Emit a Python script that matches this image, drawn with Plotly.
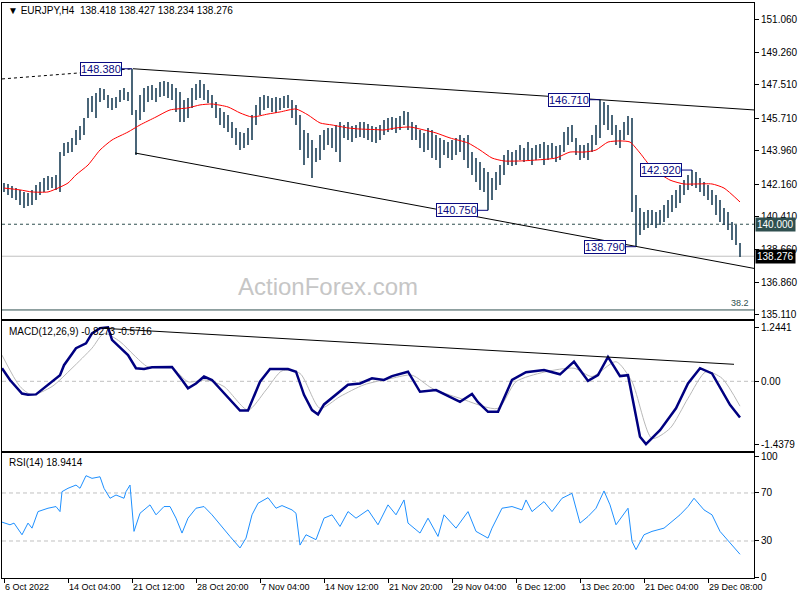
import plotly.graph_objects as go

# ---------------- data ----------------
header_text = "▼ EURJPY,H4  138.418 138.427 138.234 138.276"
macd_label = "MACD(12,26,9) -0.8273 -0.5716"
rsi_label = "RSI(14) 18.9414"
watermark = "ActionForex.com"

# price bars (each plotted bar spans two H4 bars; position = H4 bar index)
bar_high = [
    142.22, 142.17, 142.06, 141.95, 141.85, 141.74, 141.69, 141.85, 142.11, 142.28,
    142.49, 142.60, 142.55, 142.66, 143.89, 144.38, 144.43, 144.65, 145.08, 145.30,
    145.73, 146.80, 146.91, 147.07, 147.34, 147.29, 146.97, 146.80, 146.86, 147.23,
    147.34, 147.13, 148.38, 146.16, 146.97, 147.34, 147.45, 147.50, 147.34, 147.67,
    147.72, 147.67, 147.56, 147.34, 147.13, 146.69, 146.80, 147.34, 147.56, 147.77,
    147.56, 147.23, 146.97, 146.59, 146.27, 146.05, 145.89, 145.51, 145.19, 144.97,
    144.92, 145.19, 145.89, 146.43, 146.86, 146.97, 146.91, 146.80, 146.86, 146.80,
    146.91, 146.97, 146.69, 146.43, 145.89, 145.08, 144.92, 144.54, 144.11, 144.81,
    145.08, 145.19, 145.19, 145.35, 145.51, 145.35, 145.51, 145.30, 145.35, 145.51,
    145.51, 145.40, 145.30, 145.24, 145.35, 145.62, 145.73, 145.78, 145.73, 145.83,
    146.10, 146.05, 145.51, 145.35, 145.08, 144.92, 145.19, 145.08, 144.81, 144.65,
    144.54, 144.43, 144.54, 144.65, 144.81, 144.65, 144.81, 143.89, 143.57, 143.35,
    143.03, 142.82, 142.49, 142.82, 143.19, 143.73, 144.00, 143.89, 144.00, 144.27,
    144.11, 144.43, 144.11, 144.27, 144.33, 144.43, 144.27, 144.38, 144.22, 144.27,
    144.97, 145.24, 145.35, 144.65, 144.27, 144.27, 144.38, 144.81, 145.35, 146.71,
    146.59, 146.43, 145.89, 145.35, 145.08, 145.51, 145.83, 145.73, 141.58, 140.88,
    140.66, 140.77, 140.77, 140.66, 140.77, 141.04, 141.31, 141.58, 141.85, 142.11,
    142.38, 142.66, 142.92, 142.82, 142.49, 142.28, 142.11, 141.85, 141.58, 141.31,
    140.88, 140.66, 140.12, 139.96, 138.99,
]
bar_low = [
    141.74, 141.58, 141.42, 141.31, 141.04, 140.88, 140.98, 141.04, 141.31, 141.58,
    141.74, 141.85, 141.95, 141.85, 141.74, 143.68, 143.84, 143.89, 144.27, 144.54,
    144.81, 145.73, 146.05, 145.73, 146.59, 146.69, 146.27, 146.16, 146.27, 146.59,
    146.69, 146.64, 145.89, 143.73, 145.62, 146.05, 146.59, 146.69, 146.59, 146.86,
    146.91, 146.80, 146.69, 146.05, 145.51, 145.51, 145.73, 146.27, 146.69, 146.80,
    146.69, 146.53, 146.27, 145.73, 145.35, 145.19, 144.97, 144.65, 144.27, 144.00,
    144.11, 144.27, 144.54, 145.35, 145.89, 146.16, 146.27, 146.05, 146.00, 146.16,
    146.27, 146.27, 145.73, 145.35, 144.00, 143.19, 143.57, 142.49, 143.35, 143.46,
    144.00, 144.27, 144.11, 143.89, 143.35, 144.65, 144.54, 144.43, 144.65, 144.70,
    144.65, 144.54, 144.43, 144.38, 144.54, 144.81, 144.97, 145.08, 144.92, 145.08,
    145.35, 145.08, 144.54, 144.54, 144.11, 143.89, 144.00, 143.57, 143.46, 143.03,
    143.73, 143.57, 143.46, 143.73, 143.89, 143.46, 143.03, 142.66, 142.28, 141.85,
    141.74, 140.75, 141.31, 141.85, 142.11, 142.66, 143.19, 143.14, 143.19, 143.46,
    143.35, 143.46, 143.19, 143.46, 143.57, 143.19, 143.46, 143.57, 143.35, 143.46,
    143.89, 144.27, 144.43, 143.73, 143.46, 143.57, 143.46, 143.89, 144.27, 144.65,
    145.35, 145.08, 144.81, 144.27, 144.11, 144.54, 144.81, 140.66, 138.79, 139.42,
    139.69, 139.80, 139.96, 139.80, 139.96, 140.12, 140.34, 140.66, 140.88, 141.15,
    141.58, 141.85, 142.06, 141.95, 141.74, 141.52, 141.31, 141.04, 140.50, 140.12,
    139.96, 139.69, 139.15, 138.88, 138.23,
]
bar_step = 2

# moving average (red)
ma_index = [0, 8, 14, 22, 27, 32, 36, 42, 48, 54, 62, 68, 76, 83, 92, 98, 104, 112, 118, 124,
            132, 138, 146, 152, 158, 164, 172, 178, 186, 190, 196, 203, 210, 216, 223, 232, 238,
            244, 250, 258, 266, 276, 283, 290, 296, 302, 308, 313, 318, 324, 333, 340, 346, 354,
            360, 368]
ma_value = [141.95, 141.85, 141.74, 141.74, 141.95, 142.22, 142.66, 143.19, 144.00, 144.54,
            144.97, 145.35, 145.78, 146.16, 146.27, 146.43, 146.48, 146.32, 146.00, 145.78,
            145.94, 146.05, 146.21, 145.89, 145.46, 145.35, 145.19, 145.13, 145.10, 145.08,
            145.19, 145.24, 145.08, 144.92, 144.65, 144.38, 144.00, 143.57, 143.41, 143.41,
            143.46, 143.57, 143.89, 143.89, 144.00, 144.43, 144.49, 144.43, 143.84, 143.03,
            142.38, 142.17, 142.17, 142.17, 141.95, 141.20]

# trend lines
upper_trend_index = [64.5, 375]
upper_trend_price = [148.38, 146.16]
lower_trend_index = [65.5, 375]
lower_trend_price = [143.84, 137.62]
lead_in_index = [-1, 64.5]
lead_in_price = [147.83, 148.38]
level_140 = 140.00
last_price = 138.276
fib_level = 135.38
fib_text = "38.2"

# swing callouts: (bar index, price, label)
callout_index = [64, 298, 242, 316, 344]
callout_price = [148.38, 146.71, 140.75, 138.79, 142.92]
callout_text = ["148.380", "146.710", "140.750", "138.790", "142.920"]

# MACD
macd_index = [-1, 3, 9, 12, 16, 20, 28, 30, 36, 41, 44, 48, 52, 54, 59, 62, 66, 70, 74, 80,
              84, 89, 92, 96, 100, 104, 110, 118, 122, 128, 133, 142, 146, 150, 154, 157, 160,
              166, 172, 178, 184, 190, 194, 202, 208, 216, 222, 228, 234, 237, 242, 247, 254,
              261, 270, 278, 285, 292, 297, 302, 308, 312, 318, 321, 328, 336, 342, 348, 354,
              363, 368]
macd_value = [0.30, 0.03, -0.28, -0.31, -0.30, -0.15, 0.14, 0.37, 0.76, 0.87, 1.10, 1.22, 1.24,
              0.95, 0.72, 0.60, 0.30, 0.28, 0.32, 0.33, 0.33, 0.03, -0.16, -0.05, 0.11, 0.03,
              -0.28, -0.67, -0.67, -0.01, 0.28, 0.28, 0.22, -0.31, -0.66, -0.76, -0.53, -0.31,
              -0.08, -0.05, 0.07, 0.03, 0.12, 0.22, -0.24, -0.20, -0.34, -0.47, -0.29, -0.48,
              -0.70, -0.70, 0.03, 0.21, 0.26, 0.16, 0.45, 0.01, 0.14, 0.56, 0.12, 0.14, -1.27,
              -1.44, -1.12, -0.62, -0.05, 0.30, 0.18, -0.54, -0.83]
signal_index = [-1, 8, 14, 24, 34, 44, 50, 58, 65, 72, 84, 92, 101, 110, 122, 131, 139, 148, 158,
                168, 180, 194, 204, 214, 228, 247, 256, 270, 285, 294, 306, 314, 324, 333, 342,
                351, 359, 368]
signal_value = [0.60, -0.12, -0.31, -0.12, 0.30, 0.76, 1.10, 0.91, 0.60, 0.33, 0.31, -0.01,
                0.03, -0.12, -0.66, -0.20, 0.24, 0.18, -0.62, -0.35, -0.08, 0.07, 0.14, -0.16,
                -0.39, -0.62, -0.01, 0.21, 0.30, 0.11, 0.45, -0.01, -1.31, -1.08, -0.39, 0.22,
                0.07, -0.57]
macd_trend_index = [49.5, 365]
macd_trend_value = [1.216, 0.39]

# RSI
rsi_index = [-1, 3, 5, 9, 12, 14, 17, 22, 26, 28, 29, 32, 36, 38, 41, 44, 48, 50, 53, 56, 60, 61,
             63, 65, 68, 71, 73, 76, 80, 83, 86, 89, 92, 96, 100, 104, 108, 113, 118, 121, 124,
             127, 132, 136, 139, 144, 146, 148, 151, 156, 160, 164, 168, 172, 176, 182, 187, 192,
             196, 200, 202, 208, 212, 217, 220, 226, 232, 236, 242, 244, 249, 254, 259, 261, 264,
             270, 274, 279, 284, 288, 292, 296, 300, 303, 306, 312, 314, 316, 320, 324, 330, 338,
             342, 345, 350, 354, 358, 363, 368]
rsi_value = [45.7, 43.5, 44.9, 35.2, 44.9, 40.7, 54.5, 57.3, 58.7, 54.5, 71.1, 73.9, 76.6, 73.9,
             84.4, 82.2, 83.5, 73.9, 65.6, 68.3, 65.6, 71.1, 76.6, 38.0, 53.1, 57.3, 60.1, 51.8,
             58.7, 58.7, 49.0, 36.6, 49.0, 57.3, 58.7, 51.8, 43.5, 33.8, 24.2, 32.4, 51.8, 61.4,
             66.1, 57.3, 59.5, 55.9, 53.1, 26.6, 35.2, 31.1, 49.0, 51.8, 42.1, 54.5, 49.0, 55.9,
             43.5, 60.1, 51.8, 64.2, 44.9, 36.6, 49.0, 33.8, 51.8, 40.7, 54.5, 38.0, 32.4, 40.7,
             57.3, 58.7, 55.9, 64.2, 54.5, 62.8, 54.5, 65.6, 69.7, 44.9, 50.4, 57.3, 71.7, 60.1,
             43.5, 57.3, 29.7, 22.8, 35.2, 38.0, 40.7, 51.8, 58.7, 65.6, 55.9, 51.8, 38.0, 28.3,
             18.94]

# axis ticks
price_ticks = [151.06, 149.26, 147.51, 145.71, 143.96, 142.16, 140.41, 138.66, 136.86, 135.11]
price_tick_text = ["151.060", "149.260", "147.510", "145.710", "143.960", "142.160", "140.410",
                   "138.660", "136.860", "135.110"]
macd_ticks = [1.2441, 0.0, -1.4379]
macd_tick_text = ["1.2441", "0.00", "-1.4379"]
rsi_ticks = [100, 70, 30, 0]
time_tick_index = [0, 32, 64, 96, 128, 160, 192, 224, 256, 288, 320, 352]
time_tick_text = ["6 Oct 2022", "14 Oct 04:00", "21 Oct 12:00", "28 Oct 20:00", "7 Nov 04:00",
                  "14 Nov 12:00", "21 Nov 20:00", "29 Nov 04:00", "6 Dec 12:00",
                  "13 Dec 20:00", "21 Dec 04:00", "29 Dec 08:00"]

# ---------------- layout geometry (pixels) ----------------
W, H = 800, 600
LEFT, RIGHT = 2, 754
MAIN_PX = (2.5, 318.5)
MACD_PX = (321, 450.5)
RSI_PX = (453, 578)
FONT = "Liberation Sans"
BAR_COLOR = "#1c3f57"
NAVY = "#0a0a80"


def ydom(p):
    return [1 - p[1] / H, 1 - p[0] / H]


xdom = [LEFT / W, RIGHT / W]
x_range = [-1, 375]

fig = go.Figure()

# bars as vertical high-low strokes
bx, by = [], []
for i, (hi, lo) in enumerate(zip(bar_high, bar_low)):
    k = i * bar_step
    bx += [k, k, None]
    by += [lo, hi, None]
fig.add_trace(go.Scatter(x=bx, y=by, mode="lines", line=dict(color=BAR_COLOR, width=1.6),
                         hoverinfo="skip", xaxis="x", yaxis="y"))
fig.add_trace(go.Scatter(x=ma_index, y=ma_value, mode="lines",
                         line=dict(color="#ff0000", width=1, shape="spline", smoothing=0.6),
                         xaxis="x", yaxis="y"))
fig.add_trace(go.Scatter(x=upper_trend_index, y=upper_trend_price, mode="lines",
                         line=dict(color="black", width=1), xaxis="x", yaxis="y"))
fig.add_trace(go.Scatter(x=lower_trend_index, y=lower_trend_price, mode="lines",
                         line=dict(color="black", width=1), xaxis="x", yaxis="y"))
fig.add_trace(go.Scatter(x=lead_in_index, y=lead_in_price, mode="lines",
                         line=dict(color="black", width=1, dash="3px,3px"), xaxis="x", yaxis="y"))

# MACD
fig.add_trace(go.Scatter(x=signal_index, y=signal_value, mode="lines",
                         line=dict(color="#b8b8b8", width=1, shape="spline", smoothing=0.7),
                         xaxis="x2", yaxis="y2"))
fig.add_trace(go.Scatter(x=macd_index, y=macd_value, mode="lines",
                         line=dict(color="#000080", width=2.5), xaxis="x2", yaxis="y2"))
fig.add_trace(go.Scatter(x=macd_trend_index, y=macd_trend_value, mode="lines",
                         line=dict(color="black", width=1), xaxis="x2", yaxis="y2"))

# RSI
fig.add_trace(go.Scatter(x=rsi_index, y=rsi_value, mode="lines",
                         line=dict(color="#1e90ff", width=1), xaxis="x3", yaxis="y3"))

shapes = []
# horizontal levels
shapes.append(dict(type="line", xref="x", yref="y", x0=x_range[0], x1=x_range[1],
                   y0=level_140, y1=level_140, line=dict(color="#2f4f4f", width=1, dash="3px,3px"),
                   layer="below"))
shapes.append(dict(type="line", xref="x", yref="y", x0=x_range[0], x1=x_range[1],
                   y0=last_price, y1=last_price, line=dict(color="#c0c0c0", width=1),
                   layer="below"))
shapes.append(dict(type="line", xref="x", yref="y", x0=x_range[0], x1=x_range[1],
                   y0=fib_level, y1=fib_level, line=dict(color="#2f4f4f", width=1),
                   layer="below"))
shapes.append(dict(type="line", xref="x2", yref="y2", x0=x_range[0], x1=x_range[1],
                   y0=0, y1=0, line=dict(color="#c0c0c0", width=1, dash="4px,3px"), layer="below"))
for lvl in (70, 30):
    shapes.append(dict(type="line", xref="x3", yref="y3", x0=x_range[0], x1=x_range[1],
                       y0=lvl, y1=lvl, line=dict(color="#c0c0c0", width=1, dash="4px,3px"),
                       layer="below"))

annotations = []
for k, p, t in zip(callout_index, callout_price, callout_text):
    shapes.append(dict(type="line", xref="x", yref="y", x0=k - 5, x1=k, y0=p, y1=p,
                       line=dict(color=NAVY, width=1)))
    annotations.append(dict(xref="x", yref="y", x=k - 5, y=p, xanchor="right", yanchor="middle",
                            text=t, showarrow=False, font=dict(family=FONT, size=11, color=NAVY),
                            bgcolor="white", bordercolor=NAVY, borderwidth=1, borderpad=0))

annotations.append(dict(xref="paper", yref="paper", x=6 / W, y=1 - 10 / H, xanchor="left",
                        yanchor="middle", text=header_text, showarrow=False,
                        font=dict(family=FONT, size=10, color="black")))
annotations.append(dict(xref="paper", yref="paper", x=7 / W, y=1 - 331 / H, xanchor="left",
                        yanchor="middle", text=macd_label, showarrow=False,
                        font=dict(family=FONT, size=10, color="black")))
annotations.append(dict(xref="paper", yref="paper", x=7 / W, y=1 - 463 / H, xanchor="left",
                        yanchor="middle", text=rsi_label, showarrow=False,
                        font=dict(family=FONT, size=10, color="black")))
annotations.append(dict(xref="paper", yref="paper", x=328 / W, y=1 - 286 / H, xanchor="center",
                        yanchor="middle", text=watermark, showarrow=False,
                        font=dict(family=FONT, size=24, color="#c6c6c6")))
annotations.append(dict(xref="paper", yref="y", x=(RIGHT - 3) / W, y=fib_level, xanchor="right",
                        yanchor="bottom", text=fib_text, showarrow=False,
                        font=dict(family=FONT, size=9, color="#2f4f4f")))
annotations.append(dict(xref="paper", yref="y", x=755 / W, y=level_140, xanchor="left",
                        yanchor="middle", text=f"{level_140:.3f}", showarrow=False,
                        font=dict(family=FONT, size=10, color="white"), bgcolor="#2f4f4f",
                        borderpad=1))
annotations.append(dict(xref="paper", yref="y", x=755 / W, y=last_price, xanchor="left",
                        yanchor="middle", text=f"{last_price:.3f}", showarrow=False,
                        font=dict(family=FONT, size=10, color="white"), bgcolor="black",
                        borderpad=1))

axis_common = dict(showline=True, linecolor="black", linewidth=1, mirror=True,
                   showgrid=False, zeroline=False, fixedrange=True)
yaxis_common = dict(axis_common, side="right", ticks="outside", ticklen=4, tickcolor="black",
                    tickfont=dict(family=FONT, size=10, color="black"))

fig.update_layout(
    width=W, height=H, paper_bgcolor="white", plot_bgcolor="white", showlegend=False,
    margin=dict(l=0, r=0, t=0, b=0, autoexpand=False),
    xaxis=dict(axis_common, domain=xdom, range=x_range, anchor="y", showticklabels=False),
    xaxis2=dict(axis_common, domain=xdom, range=x_range, anchor="y2", matches="x",
                showticklabels=False),
    xaxis3=dict(axis_common, domain=xdom, range=x_range, anchor="y3", matches="x",
                tickmode="array", tickvals=time_tick_index, ticktext=time_tick_text,
                ticks="outside", ticklen=4, tickcolor="black", ticklabelposition="outside right",
                tickangle=0, tickfont=dict(family=FONT, size=9, color="black")),
    yaxis=dict(yaxis_common, domain=ydom(MAIN_PX), range=[134.92, 151.95], anchor="x",
               tickmode="array", tickvals=price_ticks, ticktext=price_tick_text),
    yaxis2=dict(yaxis_common, domain=ydom(MACD_PX), range=[-1.587, 1.383], anchor="x2",
                tickmode="array", tickvals=macd_ticks, ticktext=macd_tick_text),
    yaxis3=dict(yaxis_common, domain=ydom(RSI_PX), range=[-0.83, 103.3], anchor="x3",
                tickmode="array", tickvals=rsi_ticks, ticktext=[str(v) for v in rsi_ticks]),
    shapes=shapes, annotations=annotations,
)

fig.write_html(
    "out.html",
    config={"displayModeBar": False},
    post_script="document.body.style.margin='0';document.body.style.padding='0';"
                "document.body.style.overflow='hidden';",
)
